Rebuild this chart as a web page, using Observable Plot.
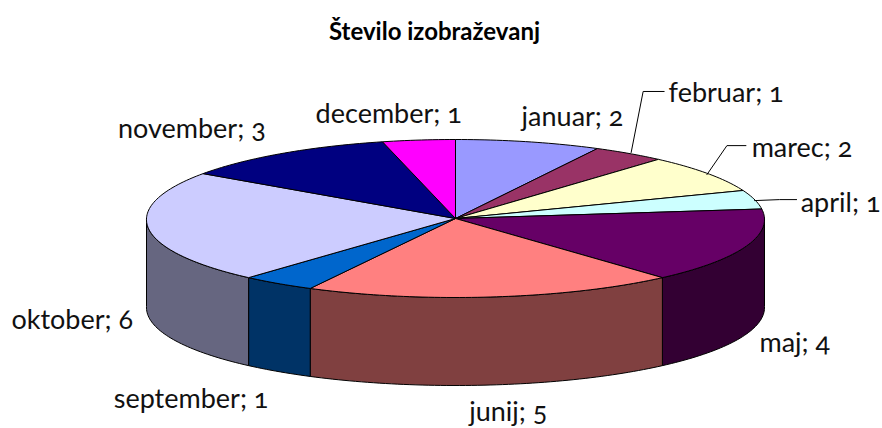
<!DOCTYPE html>
<html>
<head>
<meta charset="utf-8">
<script src="https://cdn.jsdelivr.net/npm/d3@7"></script>
<script src="https://cdn.jsdelivr.net/npm/@observablehq/plot@0.6"></script>
<style>
html,body{margin:0;padding:0;background:#fff}
#title{width:869px;height:50px;text-align:center;font:bold 24px/62px Lato,sans-serif;color:#000;white-space:nowrap}
svg{display:block;font-feature-settings:"onum" 1}
</style>
</head>
<body>
<div id="title">Število izobraževanj</div>
<div id="chart"></div>
<script>
const months = ["januar","februar","marec","april","maj","junij","september","oktober","november","december"];
const counts = [2,1,2,1,4,5,1,6,3,1];
const topColors = ["#9999FF","#993366","#FFFFCC","#CCFFFF","#660066","#FF8080","#0066CC","#CCCCFF","#000080","#FF00FF"];
const sideColors = ["#4D4D80","#4D1A33","#808066","#668080","#330033","#804040","#003366","#666680","#000040","#800080"];
const labelOffsets = [[44,-24],[97,-60],[94,-25],[86,4],[49,97],[15,115],[-87,116],[-76,92],[-90,-24],[-30,-26]];
const leaderBends = {februar:[[2,-1],[14,-62],[35,-62]],marec:[[-1,1],[19,-28],[38,-28]],april:[[0,1],[25,0],[42,0]]};

const rx = 309, ry = 79, depth = 88, perspective = 0.013;
const total = d3.sum(counts);
const pt = (a, drop = 0) => ({x: Math.sin(a) * (1 - perspective * Math.cos(a)), y: Math.cos(a) - drop / ry});
const arc = (a0, a1, drop = 0) => {
  const n = Math.max(1, Math.ceil((a1 - a0) / 0.02));
  return d3.range(n + 1).map(i => pt(a0 + (a1 - a0) * i / n, drop));
};
let cum = 0;
const slices = months.map((m, i) => {
  const a0 = cum / total * 2 * Math.PI;
  cum += counts[i];
  return {m, a0, a1: cum / total * 2 * Math.PI, mid: (a0 + cum / total * 2 * Math.PI) / 2, off: labelOffsets[i], text: `${m}; ${counts[i]}`};
});
const tops = slices.flatMap(s => {
  const pts = [{x:0,y:0}, ...arc(s.a0, s.a1), {x:0,y:0}];
  return pts.map(p => ({...p, id: s.m, key: s.m}));
});
const sides = slices.flatMap(s => {
  const a0 = Math.max(s.a0, Math.PI / 2), a1 = Math.min(s.a1, 3 * Math.PI / 2);
  if (a1 <= a0) return [];
  const up = arc(a0, a1), down = arc(a0, a1, depth).reverse();
  return [...up, ...down, up[0]].map(p => ({...p, id: s.m + " side", key: s.m + " side"}));
});
const shift = (p, [dx, dy]) => ({x: p.x + dx / rx, y: p.y - dy / ry});
const leaders = slices.filter(s => leaderBends[s.m]).flatMap(s =>
  leaderBends[s.m].map(o => ({...shift(pt(s.mid), o), id: s.m})));

const chart = Plot.plot({
  width: 882, height: 378, margin: 0,
  x: {axis: null, domain: [-1, 1], range: [146, 764]},
  y: {axis: null, domain: [-1, 1], range: [247, 89]},
  color: {domain: [...months, ...months.map(m => m + " side")], range: [...topColors, ...sideColors]},
  marks: [
    Plot.line(sides, {x: "x", y: "y", z: "id", fill: "key", stroke: "#000", strokeWidth: 1, curve: "linear"}),
    Plot.line(tops, {x: "x", y: "y", z: "id", fill: "key", stroke: "#000", strokeWidth: 1, curve: "linear"}),
    Plot.line(leaders, {x: "x", y: "y", z: "id", stroke: "#000", strokeWidth: 1, curve: "linear"}),
    ...slices.map(s => Plot.text([s], {
      x: d => pt(d.mid).x, y: d => pt(d.mid).y, text: "text",
      dx: s.off[0], dy: s.off[1], fontSize: 27, fontFamily: "Lato, sans-serif", fill: "#111", textAnchor: "middle"
    }))
  ]
});
document.getElementById("chart").append(chart);
</script>
</body>
</html>
